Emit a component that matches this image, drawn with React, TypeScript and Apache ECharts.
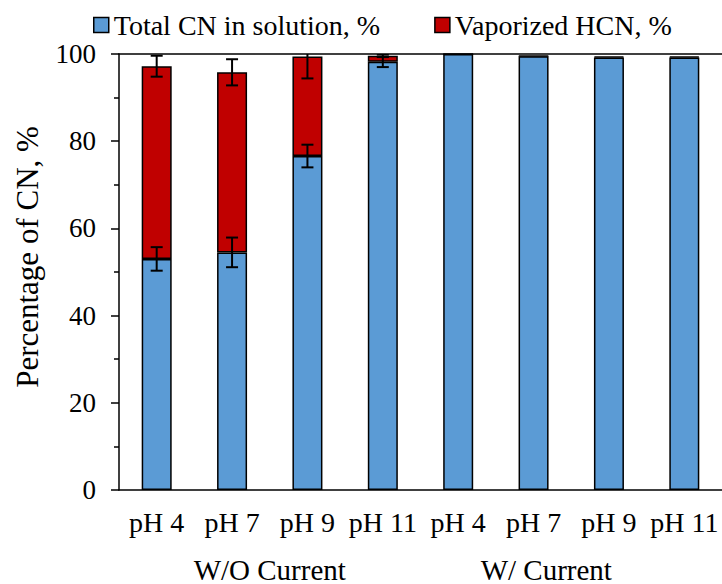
import React, { useEffect, useRef } from "react";
import * as echarts from "echarts";

// Categories (pH) and their condition groups
const categories = ["pH 4", "pH 7", "pH 9", "pH 11", "pH 4", "pH 7", "pH 9", "pH 11"];
const groups = ["W/O Current", "W/ Current"];

// Stacked percentages
const totalCN = [53.0, 54.5, 76.6, 98.2, 100.0, 99.5, 99.2, 99.2];
const vaporizedHCN = [44.2, 41.3, 22.8, 1.4, 0.0, 0.1, 0.2, 0.2];

// Error bar half-widths (same units)
const totalCNErr = [2.7, 3.4, 2.6, 1.2, 0, 0, 0, 0];
const vaporizedErr = [2.4, 3.0, 5.0, 0.3, 0, 0, 0, 0];

const yTicks = [0, 20, 40, 60, 80, 100];

const FONT = "Liberation Serif";
const BLUE = "#5B9BD5";
const RED = "#C00000";

function errorSeries(name: string, centers: number[], errs: number[]) {
  const data = centers.map((c, i) => [i, c, c - errs[i], c + errs[i]]);
  return {
    type: "custom",
    name,
    xAxisIndex: 0,
    yAxisIndex: 0,
    clip: true,
    z: 10,
    silent: true,
    data,
    encode: { x: 0, y: [1, 2, 3] },
    renderItem: (params: any, api: any) => {
      const x = api.value(0);
      const lo = api.coord([x, api.value(2)]);
      const hi = api.coord([x, api.value(3)]);
      if (Math.abs(lo[1] - hi[1]) < 1) return null;
      const cap = 6;
      const style = { stroke: "#000", lineWidth: 2 };
      return {
        type: "group",
        children: [
          { type: "line", shape: { x1: lo[0], y1: lo[1], x2: hi[0], y2: hi[1] }, style },
          { type: "line", shape: { x1: lo[0] - cap, y1: lo[1], x2: lo[0] + cap, y2: lo[1] }, style },
          { type: "line", shape: { x1: hi[0] - cap, y1: hi[1], x2: hi[0] + cap, y2: hi[1] }, style },
        ],
      };
    },
  };
}

export default function App() {
  const ref = useRef<HTMLDivElement>(null);

  useEffect(() => {
    if (!ref.current) return;
    const chart = echarts.init(ref.current, null, { renderer: "svg" });
    const stackTop = totalCN.map((v, i) => v + vaporizedHCN[i]);

    chart.setOption({
      animation: false,
      textStyle: { fontFamily: FONT, color: "#000" },
      legend: {
        top: 6,
        left: 88,
        itemWidth: 15,
        itemHeight: 15,
        itemGap: 54,
        icon: "rect",
        textStyle: { fontFamily: FONT, fontSize: 28, color: "#000" },
        data: [
          { name: "Total CN in solution, %", itemStyle: { borderColor: "#000", borderWidth: 1.5 } },
          { name: "Vaporized HCN, %", itemStyle: { borderColor: "#000", borderWidth: 1.5 } },
        ],
      },
      grid: { left: 119, top: 54, width: 606, height: 436 },
      xAxis: [
        {
          type: "category",
          data: categories,
          position: "bottom",
          axisLine: { lineStyle: { color: "#000", width: 1.5 } },
          axisTick: { alignWithLabel: true, length: 7, lineStyle: { color: "#000", width: 1.5 } },
          axisLabel: { fontFamily: FONT, fontSize: 28, color: "#000", margin: 18, interval: 0 },
        },
        {
          type: "category",
          data: groups,
          position: "bottom",
          axisLine: { show: false },
          axisTick: { show: false },
          axisLabel: {
            fontFamily: FONT,
            fontSize: 29,
            color: "#000",
            margin: 65,
            interval: 0,
            formatter: (v: string, i: number) => (i === 0 ? `{a|${v}}` : `{b|${v}}`),
            rich: {
              a: { fontFamily: FONT, fontSize: 29, color: "#000" },
              b: { fontFamily: FONT, fontSize: 29, color: "#000", padding: [0, 50, 0, 0] },
            },
          },
        },
        {
          type: "category",
          data: categories,
          position: "top",
          axisLine: { lineStyle: { color: "#000", width: 1.5 } },
          axisTick: { show: false },
          axisLabel: { show: false },
        },
      ],
      yAxis: {
        type: "value",
        min: yTicks[0],
        max: yTicks[yTicks.length - 1],
        interval: 20,
        name: "Percentage of CN, %",
        nameLocation: "middle",
        nameGap: 76,
        nameTextStyle: { fontFamily: FONT, fontSize: 31, color: "#000", padding: [0, 0, 0, 30] },
        axisLine: { show: true, lineStyle: { color: "#000", width: 1.5 } },
        axisTick: { show: true, length: 8, lineStyle: { color: "#000", width: 1.5 } },
        minorTick: { show: true, splitNumber: 2, length: 5, lineStyle: { color: "#000", width: 1.5 } },
        splitLine: { show: false },
        axisLabel: { fontFamily: FONT, fontSize: 27, color: "#000", margin: 23 },
      },
      series: [
        {
          name: "Total CN in solution, %",
          type: "bar",
          stack: "cn",
          barWidth: 30,
          data: totalCN,
          itemStyle: { color: BLUE, borderColor: "#000", borderWidth: 1.5 },
        },
        {
          name: "Vaporized HCN, %",
          type: "bar",
          stack: "cn",
          barWidth: 30,
          data: vaporizedHCN,
          itemStyle: { color: RED, borderColor: "#000", borderWidth: 1.5 },
        },
        errorSeries("totalErr", totalCN, totalCNErr),
        errorSeries("hcnErr", stackTop, vaporizedErr),
      ],
    });

    return () => chart.dispose();
  }, []);

  return <div ref={ref} style={{ width: 722, height: 584, position: "absolute", left: 0, top: 0 }} />;
}
